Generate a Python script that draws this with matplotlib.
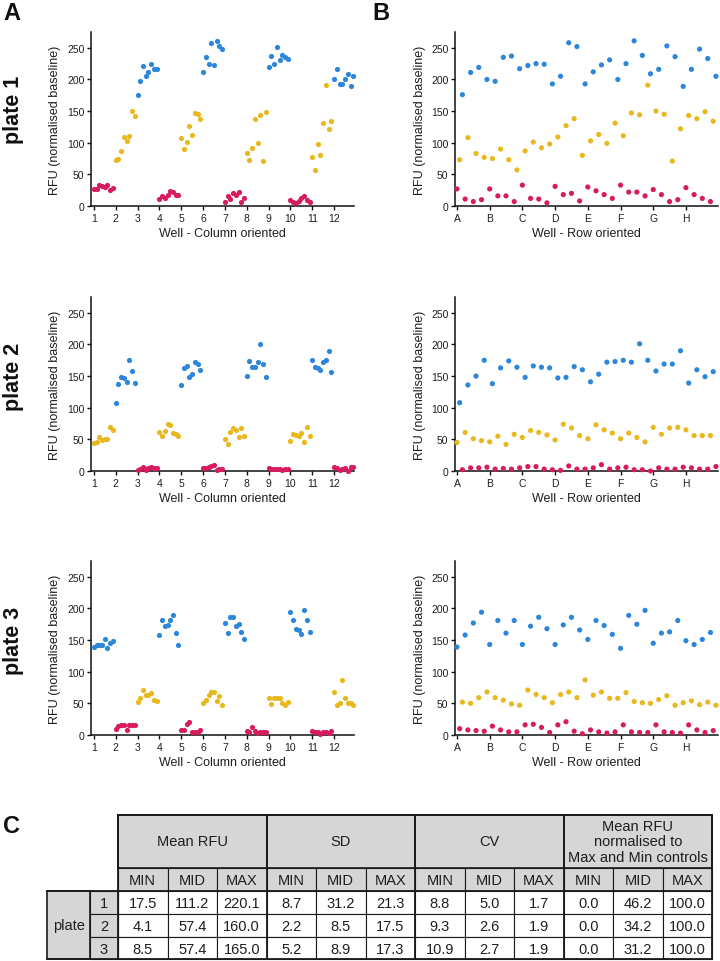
import matplotlib
matplotlib.use('Agg')
import matplotlib.pyplot as plt
from matplotlib.patches import Rectangle

plt.rcParams['font.family'] = ['Liberation Sans', 'DejaVu Sans']

# ---------------- data ----------------
row_labels = ['A', 'B', 'C', 'D', 'E', 'F', 'G', 'H']
col_labels = [str(i) for i in range(1, 13)]
y_ticks = [0, 50, 100, 150, 200, 250]

# well values, 8 rows (A-H) x 12 columns (1-12)
plate1_wells = [
    [27, 73, 176, 11, 108, 211, 7, 83, 219, 10, 77, 200],
    [27, 75, 197, 16, 90, 235, 16, 73, 237, 7, 57, 217],
    [33, 87, 222, 12, 101, 225, 11, 92, 224, 5, 98, 193],
    [31, 109, 205, 18, 127, 258, 20, 138, 252, 8, 80, 193],
    [30, 103, 212, 24, 113, 223, 18, 99, 231, 12, 131, 200],
    [33, 111, 225, 22, 147, 261, 22, 144, 238, 16, 191, 209],
    [26, 150, 216, 18, 145, 253, 7, 71, 236, 10, 122, 189],
    [29, 143, 216, 18, 138, 248, 12, 149, 233, 7, 134, 205],
]
plate2_wells = [
    [45, 108, 2, 61, 136, 5, 51, 150, 5, 48, 175, 6],
    [46, 138, 3, 55, 163, 4, 42, 174, 3, 58, 164, 5],
    [53, 148, 7, 64, 166, 7, 61, 164, 3, 57, 163, 2],
    [49, 147, 1, 74, 148, 8, 68, 165, 3, 56, 160, 3],
    [51, 141, 5, 73, 153, 10, 65, 172, 3, 60, 173, 5],
    [51, 175, 6, 60, 172, 2, 53, 201, 2, 46, 175, 0],
    [69, 158, 5, 58, 169, 3, 68, 169, 3, 69, 190, 6],
    [65, 139, 5, 56, 160, 3, 56, 149, 3, 56, 157, 7],
]
plate3_wells = [
    [139, 10, 52, 158, 8, 50, 177, 7, 59, 194, 6, 68],
    [143, 14, 59, 181, 8, 55, 161, 5, 49, 181, 5, 47],
    [143, 16, 71, 172, 17, 64, 186, 12, 59, 168, 4, 51],
    [143, 16, 64, 174, 21, 68, 186, 6, 59, 166, 2, 87],
    [151, 8, 63, 181, 5, 68, 173, 3, 58, 159, 5, 58],
    [137, 16, 67, 189, 5, 53, 175, 4, 51, 197, 4, 50],
    [145, 16, 56, 161, 5, 62, 163, 4, 47, 181, 3, 51],
    [149, 16, 54, 143, 8, 48, 151, 4, 52, 162, 7, 47],
]
# control type of each column
plate1_layout = ['MIN', 'MID', 'MAX'] * 4
plate2_layout = ['MID', 'MAX', 'MIN'] * 4
plate3_layout = ['MAX', 'MIN', 'MID'] * 4

plate_names = ['plate 1', 'plate 2', 'plate 3']
ctrl_colors = {'MIN': '#D81B5E', 'MID': '#E9B81E', 'MAX': '#2C87DA'}

# table
group_headers = ['Mean RFU', 'SD', 'CV', 'Mean RFU\nnormalised to\nMax and Min controls']
sub_headers = ['MIN', 'MID', 'MAX']
plate_ids = ['1', '2', '3']
mean_rfu = [['17.5', '111.2', '220.1'], ['4.1', '57.4', '160.0'], ['8.5', '57.4', '165.0']]
sd_vals = [['8.7', '31.2', '21.3'], ['2.2', '8.5', '17.5'], ['5.2', '8.9', '17.3']]
cv_vals = [['8.8', '5.0', '1.7'], ['9.3', '2.6', '1.9'], ['10.9', '2.7', '1.9']]
norm_vals = [['0.0', '46.2', '100.0'], ['0.0', '34.2', '100.0'], ['0.0', '31.2', '100.0']]

# ---------------- figure ----------------
W, H = 720, 962
fig = plt.figure(figsize=(W / 100, H / 100), dpi=100)

def fx(px):
    return px / W

def fy(py):
    return 1 - py / H

TXT = '#1e1e1e'
bottoms = [207, 472, 736]
ax_h = 174

def style(ax):
    for s in ['top', 'right']:
        ax.spines[s].set_visible(False)
    for s in ['left', 'bottom']:
        ax.spines[s].set_linewidth(1.1)
        ax.spines[s].set_color('#111111')
    ax.tick_params(axis='both', length=2.6, width=1.0, pad=2.2, labelsize=7.5,
                   labelcolor=TXT, color='#111111')
    ax.set_ylim(0, 275)
    ax.set_yticks(y_ticks)
    ax.set_ylabel('RFU (normalised baseline)', fontsize=9, color=TXT, va='center')

plates = [(plate1_wells, plate1_layout), (plate2_wells, plate2_layout), (plate3_wells, plate3_layout)]

for p, (wells, layout) in enumerate(plates):
    b = bottoms[p]
    # column oriented
    axc = fig.add_axes([fx(91), fy(b), fx(263), ax_h / H])
    for c in range(12):
        xs = [c + 1 + r / 8 for r in range(8)]
        ys = [wells[r][c] for r in range(8)]
        axc.scatter(xs, ys, s=14, color=ctrl_colors[layout[c]], linewidths=0, zorder=3, clip_on=False)
    axc.set_xlim(0.87, 12.91)
    axc.set_xticks(range(1, 13))
    axc.set_xticklabels(col_labels)
    style(axc)
    axc.set_xlabel('Well - Column oriented', fontsize=9, color=TXT, labelpad=3)
    axc.yaxis.set_label_coords((55 - 91) / 263, 0.5)

    # row oriented
    axr = fig.add_axes([fx(455), fy(b), fx(263), ax_h / H])
    for r in range(8):
        xs = [r + c / 12 for c in range(12)]
        cols = [ctrl_colors[layout[c]] for c in range(12)]
        axr.scatter(xs, wells[r], s=14, c=cols, linewidths=0, zorder=3, clip_on=False)
    axr.set_xlim(-0.06, 7.98)
    axr.set_xticks(range(8))
    axr.set_xticklabels(row_labels)
    style(axr)
    axr.set_xlabel('Well - Row oriented', fontsize=9, color=TXT, labelpad=3)
    axr.yaxis.set_label_coords((420 - 455) / 263, 0.5)

# overlay in pixel coordinates
ov = fig.add_axes([0, 0, 1, 1], zorder=-1)
ov.set_xlim(0, W)
ov.set_ylim(H, 0)
ov.axis('off')

ov.text(12, 14, 'A', fontsize=17, fontweight='bold', ha='center', va='center', color='#111')
ov.text(381, 14, 'B', fontsize=17, fontweight='bold', ha='center', va='center', color='#111')
ov.text(11, 827, 'C', fontsize=17, fontweight='bold', ha='center', va='center', color='#111')
for name, yc in zip(plate_names, [110, 377, 641]):
    ov.text(13, yc, name, fontsize=15.5, fontweight='bold', rotation=90,
            ha='center', va='center', color='#111')

# ---------------- table ----------------
GRAY = '#D6D6D6'
LC = '#1a1a1a'
x0 = 118
cw = 49.5
y_e = [816, 869, 892, 915, 938, 960]
fs = 10.5

def cell(x, y, w, h, fill, lw=0.8):
    ov.add_patch(Rectangle((x, y), w, h, facecolor=fill, edgecolor=LC, linewidth=lw))

data_groups = [mean_rfu, sd_vals, cv_vals, norm_vals]
for g, hdr in enumerate(group_headers):
    gx = x0 + g * 3 * cw
    cell(gx, y_e[0], 3 * cw, y_e[1] - y_e[0], GRAY, 1.2)
    ov.text(gx + 1.5 * cw, (y_e[0] + y_e[1]) / 2, hdr, fontsize=fs, ha='center',
            va='center', color=TXT, linespacing=1.1)
    for k, sh in enumerate(sub_headers):
        cx = gx + k * cw
        cell(cx, y_e[1], cw, y_e[2] - y_e[1], GRAY)
        ov.text(cx + cw / 2, (y_e[1] + y_e[2]) / 2 + 1, sh, fontsize=fs, ha='center',
                va='center', color=TXT)
        for r in range(3):
            ry = y_e[2 + r]
            cell(cx, ry, cw, y_e[3 + r] - ry, 'white')
            ov.text(cx + cw / 2, (ry + y_e[3 + r]) / 2 + 1, data_groups[g][r][k],
                    fontsize=fs, ha='center', va='center', color=TXT)

# row header cells
cell(47, y_e[2], 43, y_e[5] - y_e[2], GRAY, 1.2)
ov.text(68.5, (y_e[2] + y_e[5]) / 2, 'plate', fontsize=fs, ha='center', va='center', color=TXT)
for r, pid in enumerate(plate_ids):
    cell(90, y_e[2 + r], 28, y_e[3 + r] - y_e[2 + r], GRAY)
    ov.text(104, (y_e[2 + r] + y_e[3 + r]) / 2 + 1, pid, fontsize=fs, ha='center',
            va='center', color=TXT)

# heavier group borders
for g in range(5):
    gx = x0 + g * 3 * cw
    ov.plot([gx, gx], [y_e[0], y_e[5]], color=LC, lw=1.3)
ov.plot([47, x0 + 12 * cw], [y_e[2], y_e[2]], color=LC, lw=1.3)
ov.plot([47, x0 + 12 * cw], [y_e[5], y_e[5]], color=LC, lw=1.3)
ov.plot([x0, x0 + 12 * cw], [y_e[0], y_e[0]], color=LC, lw=1.3)

fig.savefig('out.png', dpi=100)
